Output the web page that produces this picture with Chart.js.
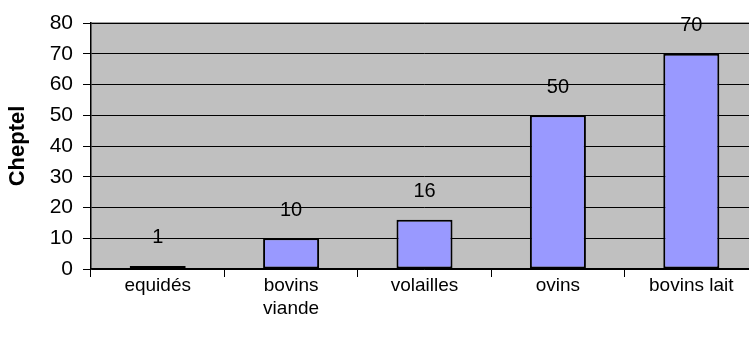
<!DOCTYPE html>
<html>
<head>
<meta charset="utf-8">
<script src="https://cdn.jsdelivr.net/npm/chart.js@4/dist/chart.umd.min.js"></script>
<style>
  html, body { margin: 0; padding: 0; background: #fff; overflow: hidden; }
  .wrap { width: 758px; height: 342px; }
</style>
</head>
<body>
<div class="wrap"><canvas id="myChart"></canvas></div>
<script>
// data
const categories = ['equidés', ['bovins', 'viande'], 'volailles', 'ovins', 'bovins lait'];
const cheptel = [1, 10, 16, 50, 70];
const yTicks = [0, 10, 20, 30, 40, 50, 60, 70, 80];

const FONT = '"Liberation Sans", Arial, sans-serif';

// draws the value above each bar, Excel style
const valueLabels = {
  id: 'valueLabels',
  afterDatasetsDraw(chart) {
    const ctx = chart.ctx;
    const meta = chart.getDatasetMeta(0);
    ctx.save();
    ctx.font = '20px ' + FONT;
    ctx.fillStyle = '#000';
    ctx.textAlign = 'center';
    ctx.textBaseline = 'middle';
    meta.data.forEach((bar, i) => {
      ctx.fillText(String(cheptel[i]), bar.x, bar.y - 28);
    });
    ctx.restore();
  }
};

// grey plot background + top border
const plotBg = {
  id: 'plotBg',
  beforeDraw(chart) {
    const a = chart.chartArea;
    const ctx = chart.ctx;
    ctx.save();
    ctx.fillStyle = '#c0c0c0';
    ctx.fillRect(a.left, a.top, a.right - a.left, a.bottom - a.top);
    ctx.strokeStyle = '#808080';
    ctx.lineWidth = 1.5;
    ctx.beginPath();
    ctx.moveTo(a.left, a.top);
    ctx.lineTo(a.right, a.top);
    ctx.stroke();
    ctx.restore();
  }
};

const config = {
  type: 'bar',
  data: {
    labels: categories,
    datasets: [{
      label: 'Cheptel',
      data: cheptel,
      backgroundColor: '#9999ff',
      borderColor: '#000',
      borderWidth: 2,
      borderSkipped: false,
      categoryPercentage: 1,
      barPercentage: 0.42
    }]
  },
  options: {
    responsive: true,
    maintainAspectRatio: false,
    animation: false,
    layout: { padding: { top: 23, left: 0, right: 0, bottom: 0 } },
    plugins: {
      legend: { display: false },
      tooltip: { enabled: false }
    },
    scales: {
      x: {
        grid: { drawOnChartArea: false, drawTicks: true, tickLength: 8, color: '#000', offset: true },
        border: { color: '#000', width: 1.5 },
        ticks: { color: '#000', font: { family: FONT, size: 19, lineHeight: 1.22 }, padding: -3, maxRotation: 0, autoSkip: false },
        afterFit(scale) { scale.height = 73; }
      },
      y: {
        min: 0,
        max: 80,
        afterBuildTicks(scale) { scale.ticks = yTicks.map(v => ({ value: v })); },
        grid: { color: '#000', lineWidth: 1, tickLength: 8 },
        border: { color: '#000', width: 1.5 },
        ticks: { color: '#000', font: { family: FONT, size: 21 }, padding: 10 },
        title: { display: true, text: 'Cheptel', color: '#000', font: { family: FONT, size: 22, weight: 'bold' }, padding: { top: 5, bottom: 4 } },
        afterFit(scale) { scale.width = 91; }
      }
    }
  },
  plugins: [plotBg, valueLabels]
};

new Chart(document.getElementById('myChart'), config);
</script>
</body>
</html>
